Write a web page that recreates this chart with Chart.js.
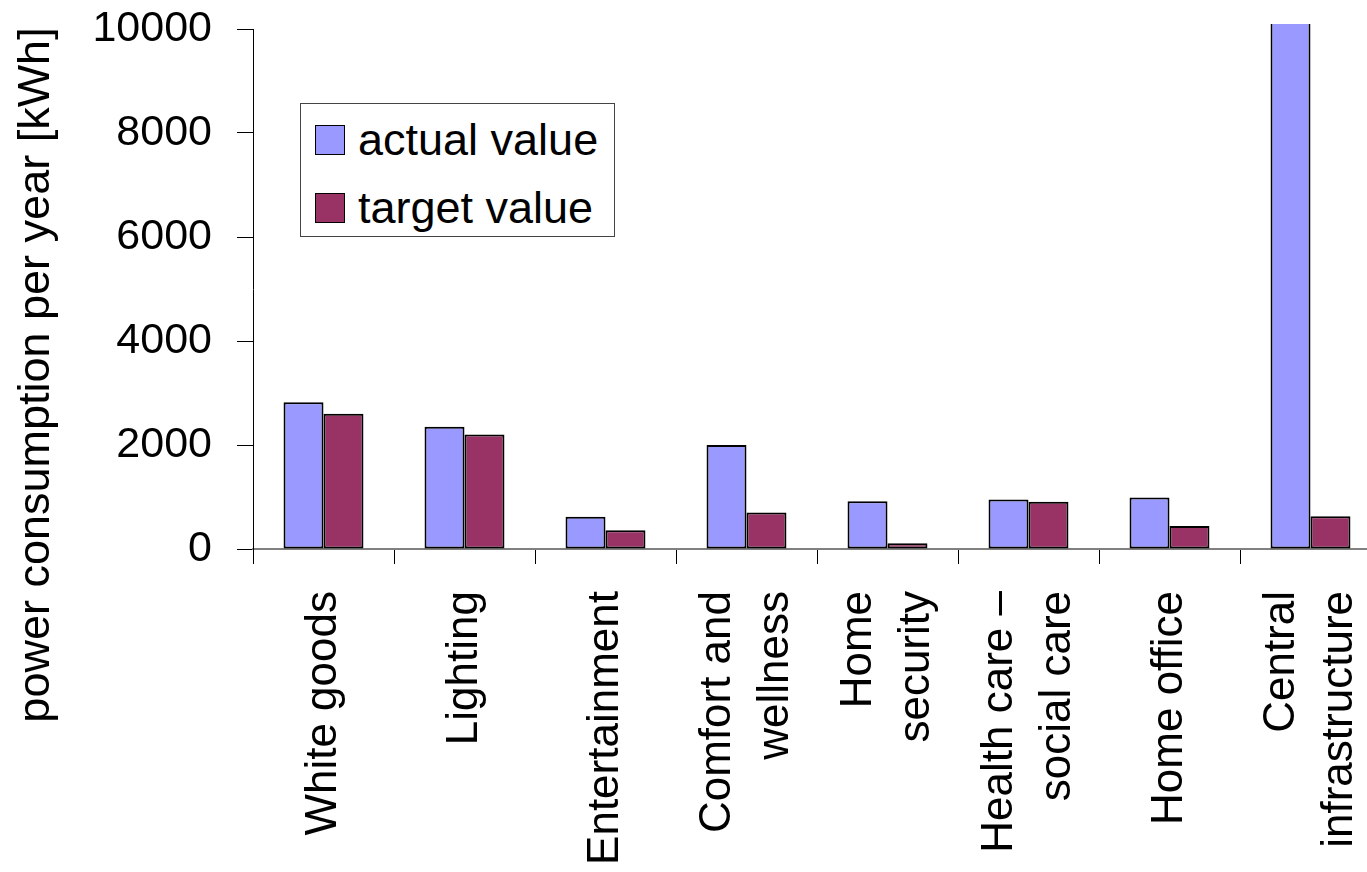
<!DOCTYPE html>
<html lang="en">
<head>
    <meta charset="UTF-8">
    <title>Power consumption per year</title>
    <script src="https://cdn.jsdelivr.net/npm/chart.js"></script>
    <style>
        html, body {
            margin: 0;
            padding: 0;
            background: #fff;
            overflow: hidden;
            font-family: "Liberation Sans", Arial, sans-serif;
        }
        #wrap {
            position: relative;
            width: 1400px;
            height: 872px;
        }
        #legend {
            position: absolute;
            left: 300px;
            top: 103px;
            width: 313px;
            height: 132px;
            border: 1px solid #444;
            background: #fff;
        }
        .item {
            position: absolute;
            left: 14px;
            height: 30px;
            display: flex;
            align-items: center;
            font-size: 45px;
            color: #000;
            white-space: nowrap;
        }
        .item span.box {
            display: inline-block;
            width: 28px;
            height: 28px;
            border: 1px solid #000;
            margin-right: 13px;
        }
    </style>
</head>
<body>
<div id="wrap">
    <canvas id="chart" width="1400" height="872"></canvas>
    <div id="legend"></div>
</div>
<script>
    // data
    var categories = [
        'White goods',
        'Lighting',
        'Entertainment',
        ['Comfort and', 'wellness'],
        ['Home', 'security'],
        ['Health care \u2013', 'social care'],
        'Home office',
        ['Central', 'infrastructure']
    ];
    var actualValues = [2820, 2350, 620, 2000, 920, 950, 990, 12000];
    var targetValues = [2600, 2200, 360, 700, 110, 910, 440, 630];
    var seriesNames = ['actual value', 'target value'];
    var yTicks = [0, 2000, 4000, 6000, 8000, 10000];
    var yTitle = 'power consumption per year [kWh]';

    var FONT = '"Liberation Sans", Arial, sans-serif';

    // y title and rotated category labels are drawn here so that
    // two-line labels stay centred on their category
    var textPlugin = {
        id: 'textPlugin',
        afterDraw: function (chart) {
            var ctx = chart.ctx;
            var xs = chart.scales.x;

            ctx.save();
            ctx.fillStyle = '#000';
            ctx.font = '45px ' + FONT;
            ctx.textAlign = 'center';
            ctx.textBaseline = 'middle';
            ctx.translate(37, 375);
            ctx.rotate(-Math.PI / 2);
            ctx.fillText(yTitle, 0, 0);
            ctx.restore();

            var lh = 58;
            var top = xs.top + 42;
            categories.forEach(function (lab, i) {
                var lines = Array.isArray(lab) ? lab : [lab];
                var cx = xs.getPixelForValue(i);
                lines.forEach(function (line, j) {
                    var x = cx + (j - (lines.length - 1) / 2) * lh;
                    ctx.save();
                    ctx.fillStyle = '#000';
                    ctx.font = '44px ' + FONT;
                    ctx.textAlign = 'right';
                    ctx.textBaseline = 'middle';
                    ctx.translate(x, top);
                    ctx.rotate(-Math.PI / 2);
                    ctx.fillText(line, 0, 0);
                    ctx.restore();
                });
            });
        }
    };

    var ctx = document.getElementById('chart').getContext('2d');
    var chart = new Chart(ctx, {
        type: 'bar',
        data: {
            labels: categories.map(function (c) { return Array.isArray(c) ? c.join(' ') : c; }),
            datasets: [
                {
                    label: seriesNames[0],
                    data: actualValues,
                    backgroundColor: '#9999FF',
                    borderColor: '#000',
                    borderWidth: 2,
                    borderSkipped: false,
                    clip: { left: false, top: 5, right: false, bottom: false }
                },
                {
                    label: seriesNames[1],
                    data: targetValues,
                    backgroundColor: '#993366',
                    borderColor: '#000',
                    borderWidth: 2,
                    borderSkipped: false
                }
            ]
        },
        options: {
            responsive: false,
            animation: false,
            layout: {
                padding: { top: 29, right: 19, bottom: 0, left: 0 }
            },
            datasets: {
                bar: {
                    categoryPercentage: 0.567,
                    barPercentage: 1.0
                }
            },
            scales: {
                x: {
                    grid: {
                        offset: true,
                        drawOnChartArea: false,
                        drawTicks: true,
                        tickLength: 15,
                        color: '#000',
                        lineWidth: 1
                    },
                    border: { display: true, color: '#808080', width: 2 },
                    ticks: { display: false },
                    afterFit: function (scale) { scale.height = 323; }
                },
                y: {
                    min: 0,
                    max: 10000,
                    afterBuildTicks: function (scale) {
                        scale.ticks = yTicks.map(function (v) { return { value: v }; });
                    },
                    grid: {
                        drawOnChartArea: false,
                        drawTicks: true,
                        tickLength: 16,
                        color: '#000',
                        lineWidth: 1
                    },
                    border: { display: true, color: '#000', width: 1 },
                    ticks: {
                        color: '#000',
                        padding: 25,
                        font: { family: FONT, size: 43 },
                        callback: function (v) { return String(v); }
                    },
                    afterFit: function (scale) {
                        scale.width = 253;
                        scale.paddingTop = 0;
                        scale.paddingBottom = 0;
                    }
                }
            },
            plugins: {
                legend: { display: false },
                tooltip: { enabled: false }
            }
        },
        plugins: [textPlugin]
    });

    // legend box inside the plot, built from the datasets
    var legend = document.getElementById('legend');
    chart.data.datasets.forEach(function (ds, i) {
        var item = document.createElement('div');
        item.className = 'item';
        item.style.top = (21 + i * 68) + 'px';
        var box = document.createElement('span');
        box.className = 'box';
        box.style.background = ds.backgroundColor;
        item.appendChild(box);
        item.appendChild(document.createTextNode(ds.label));
        legend.appendChild(item);
    });
</script>
</body>
</html>
